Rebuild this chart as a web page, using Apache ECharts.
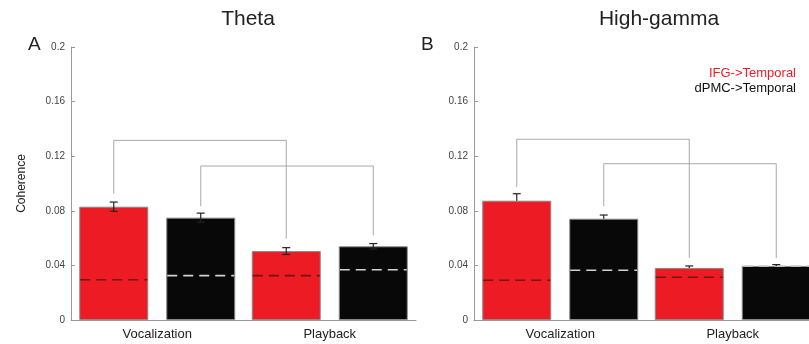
<!DOCTYPE html>
<html>
<head>
<meta charset="utf-8">
<script src="https://cdn.jsdelivr.net/npm/echarts@6/dist/echarts.min.js"></script>
<style>
  html, body { margin: 0; padding: 0; background: #fff; }
  #chart { width: 809px; height: 344px; }
</style>
</head>
<body>
<div id="chart"></div>
<script>
// categories and tick labels
const categories = ["Vocalization", "Playback"];
const yTicks = [0, 0.04, 0.08, 0.12, 0.16, 0.2];

// Theta panel
const thetaIFG = [0.083, 0.0505];
const thetaDPMC = [0.075, 0.054];
const thetaIFGErr = [0.0034, 0.0025];
const thetaDPMCErr = [0.0033, 0.002];
const thetaIFGChance = [0.0295, 0.0325];
const thetaDPMCChance = [0.0325, 0.0368];
// [catFrom, catTo, side, top, endFrom, endTo]
const thetaBrackets = [
  [0, 1, 0, 0.1316, 0.0925, 0.0596],
  [0, 1, 1, 0.1128, 0.0833, 0.062],
];

// High-gamma panel
const gammaIFG = [0.0874, 0.0381];
const gammaDPMC = [0.0742, 0.0396];
const gammaIFGErr = [0.0051, 0.0015];
const gammaDPMCErr = [0.0027, 0.001];
const gammaIFGChance = [0.0291, 0.0313];
const gammaDPMCChance = [0.0364, 0.0396];
const gammaBrackets = [
  [0, 1, 0, 0.1324, 0.0974, 0.0454],
  [0, 1, 1, 0.1145, 0.0833, 0.0454],
];

const RED = "#ed1c24";
const BLACK = "#080808";
const FONT = "Arial, Liberation Sans";
const BAR_W = 69;
const BAR_GAP = 18;
const OFFSET = (BAR_W + BAR_GAP) / 2;

const barX = (api, cat, side) =>
  api.coord([cat, 0])[0] + (side === 0 ? -OFFSET : OFFSET);

// error bars: value [cat, side, mean, err, both]
const errData = (ifg, dpmc, ifgErr, dpmcErr, both) => {
  const out = [];
  categories.forEach((c, i) => {
    out.push([i, 0, ifg[i], ifgErr[i], both]);
    out.push([i, 1, dpmc[i], dpmcErr[i], both]);
  });
  return out;
};
const chanceData = (ifgC, dpmcC) => {
  const out = [];
  categories.forEach((c, i) => {
    out.push([i, 0, ifgC[i]]);
    out.push([i, 1, dpmcC[i]]);
  });
  return out;
};

const renderErr = (params, api) => {
  const cat = api.value(0), side = api.value(1);
  const m = api.value(2), e = api.value(3), both = api.value(4);
  const x = barX(api, cat, side);
  const yTop = api.coord([cat, m + e])[1];
  const yBot = api.coord([cat, both ? m - e : m])[1];
  const style = { stroke: "#222", lineWidth: 1.2 };
  const children = [
    { type: "line", shape: { x1: x, y1: yTop, x2: x, y2: yBot }, style },
    { type: "line", shape: { x1: x - 4, y1: yTop, x2: x + 4, y2: yTop }, style },
  ];
  if (both) {
    children.push({ type: "line", shape: { x1: x - 4, y1: yBot, x2: x + 4, y2: yBot }, style });
  }
  return { type: "group", children };
};

const renderChance = (params, api) => {
  const cat = api.value(0), side = api.value(1);
  const x = barX(api, cat, side);
  const y = api.coord([cat, api.value(2)])[1];
  return {
    type: "line",
    shape: { x1: x - BAR_W / 2 + 1, y1: y, x2: x + BAR_W / 2 - 1, y2: y },
    style: {
      stroke: side === 0 ? "#6e1416" : "#d0d0d0",
      lineWidth: 1.6,
      lineDash: [10, 6],
    },
  };
};

const renderBracket = (params, api) => {
  const c0 = api.value(0), c1 = api.value(1), side = api.value(2);
  const x0 = barX(api, c0, side);
  const x1 = barX(api, c1, side);
  const yT = api.coord([c0, api.value(3)])[1];
  const y0 = api.coord([c0, api.value(4)])[1];
  const y1 = api.coord([c1, api.value(5)])[1];
  return {
    type: "polyline",
    shape: { points: [[x0, y0], [x0, yT], [x1, yT], [x1, y1]] },
    style: { stroke: "#a8a8a8", lineWidth: 1, fill: null },
  };
};

// second panel runs past the right edge of the canvas, as in the figure
const grids = [
  { left: 71, width: 345, top: 47, height: 273, outerBoundsMode: "none" },
  { left: 474, width: 345, top: 47, height: 273, outerBoundsMode: "none" },
];

const makeX = (gi) => ({
  type: "category",
  gridIndex: gi,
  data: categories,
  axisLine: { lineStyle: { color: "#999", width: 1 } },
  axisTick: { show: false },
  axisLabel: { color: "#222", fontSize: 13, margin: 8, fontFamily: FONT },
});
const makeY = (gi) => ({
  type: "value",
  gridIndex: gi,
  min: 0,
  max: 0.2,
  interval: 0.04,
  name: gi === 0 ? "Coherence" : "",
  nameLocation: "middle",
  nameGap: 43,
  nameRotate: 90,
  nameTextStyle: { color: "#222", fontSize: 12, fontFamily: FONT },
  axisLine: { show: true, lineStyle: { color: "#999", width: 1 } },
  axisTick: { show: true, inside: true, length: 4, lineStyle: { color: "#999" } },
  axisLabel: {
    color: "#444",
    fontSize: 10,
    margin: 6,
    fontFamily: FONT,
    formatter: (v) => {
      const t = yTicks.find((k) => Math.abs(k - v) < 1e-9);
      return String(+(t !== undefined ? t : v).toFixed(2));
    },
  },
  splitLine: { show: false },
});

const barSeries = (gi, name, data, color) => ({
  type: "bar",
  name,
  xAxisIndex: gi,
  yAxisIndex: gi,
  data,
  barWidth: BAR_W,
  barGap: (BAR_GAP / BAR_W) * 100 + "%",
  itemStyle: { color, borderColor: "#8a8a8a", borderWidth: 1 },
  z: 2,
});

const customSeries = (gi, data, renderItem, z) => ({
  type: "custom",
  xAxisIndex: gi,
  yAxisIndex: gi,
  data,
  renderItem,
  z,
  silent: true,
  clip: false,
});

const option = {
  animation: false,
  backgroundColor: "#fff",
  grid: grids,
  xAxis: [makeX(0), makeX(1)],
  yAxis: [makeY(0), makeY(1)],
  graphic: [
    { type: "text", x: 248, y: 9, style: { text: "Theta", fontSize: 21, fill: "#222", fontFamily: FONT, align: "center" } },
    { type: "text", x: 659, y: 9, style: { text: "High-gamma", fontSize: 21, fill: "#222", fontFamily: FONT, align: "center" } },
    { type: "text", x: 28, y: 35, style: { text: "A", fontSize: 19, fill: "#222", fontFamily: FONT } },
    { type: "text", x: 421, y: 35, style: { text: "B", fontSize: 19, fill: "#222", fontFamily: FONT } },
    { type: "text", x: 796, y: 67, style: { text: "IFG->Temporal", fontSize: 13, fill: RED, fontFamily: FONT, align: "right" } },
    { type: "text", x: 796, y: 82, style: { text: "dPMC->Temporal", fontSize: 13, fill: "#111", fontFamily: FONT, align: "right" } },
  ],
  series: [
    barSeries(0, "IFG->Temporal", thetaIFG, RED),
    barSeries(0, "dPMC->Temporal", thetaDPMC, BLACK),
    barSeries(1, "IFG->Temporal", gammaIFG, RED),
    barSeries(1, "dPMC->Temporal", gammaDPMC, BLACK),
    customSeries(0, errData(thetaIFG, thetaDPMC, thetaIFGErr, thetaDPMCErr, 1), renderErr, 5),
    customSeries(1, errData(gammaIFG, gammaDPMC, gammaIFGErr, gammaDPMCErr, 0), renderErr, 5),
    customSeries(0, chanceData(thetaIFGChance, thetaDPMCChance), renderChance, 4),
    customSeries(1, chanceData(gammaIFGChance, gammaDPMCChance), renderChance, 4),
    customSeries(0, thetaBrackets, renderBracket, 3),
    customSeries(1, gammaBrackets, renderBracket, 3),
  ],
};

const chart = echarts.init(document.getElementById("chart"), null, { renderer: "canvas" });
chart.setOption(option);
</script>
</body>
</html>
